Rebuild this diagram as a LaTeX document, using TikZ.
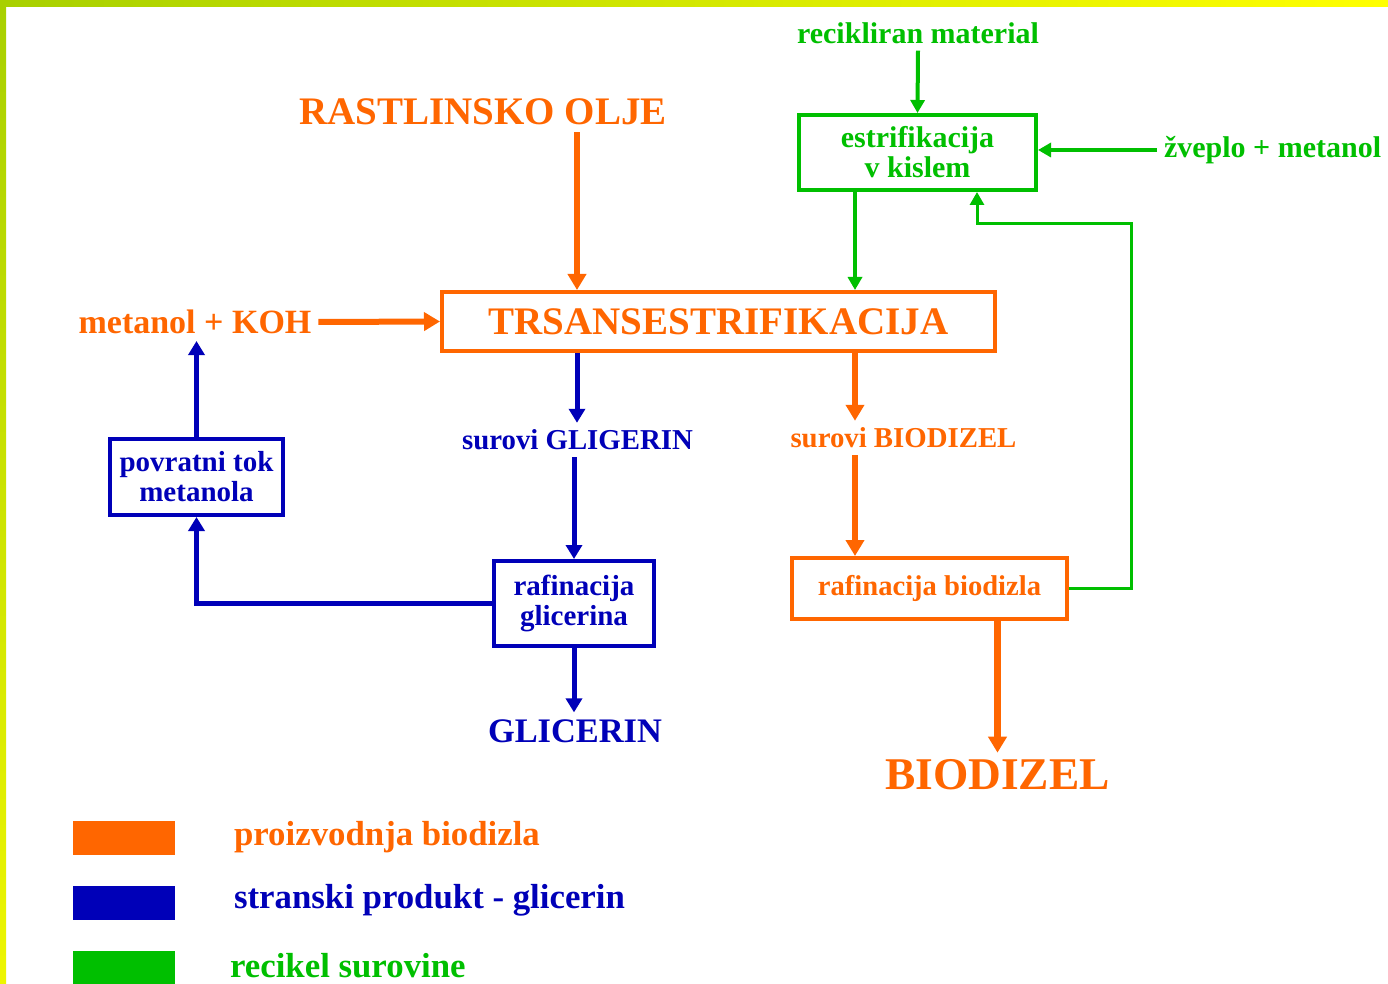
\documentclass[tikz,border=0pt]{standalone}
\usepackage{fontspec}
\setmainfont{Liberation Serif}
\usetikzlibrary{arrows.meta,calc,positioning}
\definecolor{orng}{HTML}{FF6600}
\definecolor{blu}{HTML}{0000B8}
\definecolor{grn}{HTML}{00BF00}
\definecolor{bdl}{HTML}{A8D000}
\definecolor{bdm}{HTML}{1E8C00}
\definecolor{bdr}{HTML}{FFFF00}
\newcommand{\fsz}[1]{\fontsize{#1}{15}\selectfont\bfseries}

\tikzset{
  obox/.style={draw=orng, line width=2pt, text=orng},
  bbox/.style={draw=blu, line width=2pt, text=blu, align=center},
  gbox/.style={draw=grn, line width=2pt, text=grn, align=center},
  oarrow/.style={draw=orng, line width=3pt, -{Triangle[width=9pt,length=8pt]}},
  barrow/.style={draw=blu, line width=2.5pt, -{Triangle[width=8pt,length=7pt]}},
  garrow/.style={draw=grn, line width=2pt, -{Triangle[width=7pt,length=6.5pt]}},
  legbox/.style={minimum width=51pt, minimum height=17pt, inner sep=0pt},
}

\begin{document}
\begin{tikzpicture}[x=0.5pt, y=-0.5pt]
        \useasboundingbox (0,0) rectangle (1388,984);
        \fill[white] (0,0) rectangle (1388,984);
        \shade[left color=bdl, middle color=bdm, right color=bdr] (0,0) rectangle (1388,7);
        \shade[top color=bdl, bottom color=bdr!80!bdl] (0,0) rectangle (6,984);

        \coordinate (colA) at (577,0);
        \coordinate (colB) at (855,0);
        \coordinate (colC) at (977,0);
        \coordinate (loop) at (1131,224);

        \node[text=orng, font=\fsz{19.5}] (olje) at (483,112) {RASTLINSKO OLJE};
        \node[obox, minimum width=276.5pt, minimum height=29.5pt, font=\fsz{19.5}] (trans) at (718.5,321.5) {TRSANSESTRIFIKACIJA};
        \node[text=orng, font=\fsz{17}] (koh) at (195,322) {metanol + KOH};
        \node[text=blu, font=\fsz{14.4}] (gl) at (577.5,440) {surovi GLIGERIN};
        \node[bbox, minimum width=80pt, minimum height=42.5pt, font=\fsz{14.5}] (rafgl) at (574,603.5) {rafinacija\\glicerina};
        \node[text=blu, font=\fsz{17.2}] (glicerin) at (575,731) {GLICERIN};
        \node[bbox, minimum width=86.5pt, minimum height=38pt, font=\fsz{14.5}] (povr) at (196.5,477) {povratni tok\\metanola};
        \node[text=orng, font=\fsz{14.4}] (bd) at (903.5,438) {surovi BIODIZEL};
        \node[obox, minimum width=137.5pt, minimum height=30.5pt, font=\fsz{14.3}] (rafbd) at (929.5,588.5) {rafinacija biodizla};
        \node[text=orng, font=\fsz{22.7}] (biodizel) at (997.5,775) {BIODIZEL};
        \node[gbox, minimum width=118.5pt, minimum height=37.5pt, font=\fsz{15}] (estrif) at (917.5,152.5) {estrifikacija\\v kislem};
        \node[text=grn, font=\fsz{15}] (reck) at (918,33) {recikliran material};
        \node[text=grn, font=\fsz{15}, anchor=west] (zveplo) at (1157,150) {žveplo + metanol};

        \draw[oarrow] (olje.south -| colA) -- (trans.north -| colA);
        \draw[oarrow] (koh.east) -- (trans.west);
        \draw[barrow] (trans.south -| colA) -- (gl.north -| colA);
        \draw[barrow] (gl.south -| rafgl.north) -- (rafgl.north);
        \draw[barrow] (rafgl.south) -- (glicerin.north -| rafgl.south);
        \draw[barrow] (rafgl.west) -| (povr.south);
        \draw[barrow] (povr.north) -- (koh.south -| povr.north);
        \draw[oarrow] (trans.south -| colB) -- (bd.north -| colB);
        \draw[oarrow] (bd.south -| colB) -- (rafbd.north -| colB);
        \draw[oarrow, line width=3.5pt] (rafbd.south -| biodizel.north) -- (biodizel.north);
        \draw[garrow] (reck.south) -- (estrif.north);
        \draw[garrow] (zveplo.west) -- (zveplo.west -| estrif.east);
        \draw[garrow] (estrif.south -| colB) -- (trans.north -| colB);
        \draw[garrow, line width=1.5pt] (rafbd.east) -| (loop) -| (estrif.south -| colC);

        % legenda
        \node[legbox, fill=orng] (lego) at (124,838) {};
        \node[legbox, fill=blu] (legb) at (124,903) {};
        \node[legbox, fill=grn] (legg) at (124,968) {};
        \node[text=orng, font=\fsz{17.4}, anchor=west] (txto) at (227,837) {proizvodnja biodizla};
        \node[text=blu, font=\fsz{17.4}, anchor=west] (txtb) at (227,900) {stranski produkt - glicerin};
        \node[text=grn, font=\fsz{17.4}, anchor=west] (txtg) at (223,966) {recikel surovine};
\end{tikzpicture}
\end{document}
